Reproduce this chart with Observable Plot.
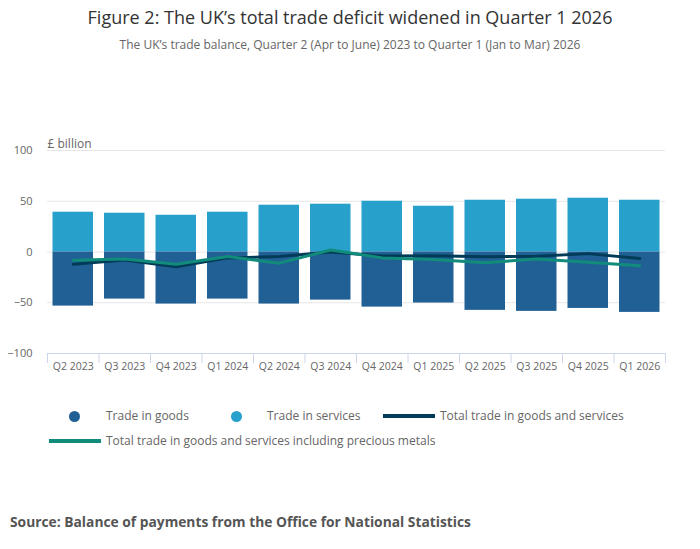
<!DOCTYPE html>
<html>
<head>
<meta charset="utf-8">
<script src="https://cdn.jsdelivr.net/npm/d3@7"></script>
<script src="https://cdn.jsdelivr.net/npm/@observablehq/plot@0.6"></script>
<style>
  html, body { margin: 0; padding: 0; background: #fff; font-family: "Open Sans", sans-serif; }
  #wrap { position: relative; width: 700px; height: 549px; }
  #title { position: absolute; top: 5px; left: 0; width: 700px; text-align: center; font-size: 18px; color: #333; }
  #subtitle { position: absolute; top: 36px; left: 0; width: 700px; text-align: center; font-size: 12px; color: #666; }
  #chart { position: absolute; top: 60px; left: 0; }
  .leg { position: absolute; font-size: 12px; color: #666; white-space: nowrap; line-height: 16px; }
  .dot { position: absolute; width: 11px; height: 11px; border-radius: 50%; }
  .ln { position: absolute; height: 4px; width: 52px; }
  #source { position: absolute; top: 512px; left: 10px; font-size: 13.8px; font-weight: bold; color: #555; }
</style>
</head>
<body>
<div id="wrap">
  <div id="title">Figure 2: The UK’s total trade deficit widened in Quarter 1 2026</div>
  <div id="subtitle">The UK’s trade balance, Quarter 2 (Apr to June) 2023 to Quarter 1 (Jan to Mar) 2026</div>
  <div id="chart"></div>
  <div class="dot" style="left:69px;top:411px;background:#206095"></div>
  <div class="leg" style="left:106px;top:408px">Trade in goods</div>
  <div class="dot" style="left:231px;top:411px;background:#27a0cc"></div>
  <div class="leg" style="left:267px;top:408px">Trade in services</div>
  <div class="ln" style="left:383px;top:414px;background:#003c57"></div>
  <div class="leg" style="left:440px;top:408px">Total trade in goods and services</div>
  <div class="ln" style="left:49px;top:439px;background:#118c7b"></div>
  <div class="leg" style="left:106px;top:433px">Total trade in goods and services including precious metals</div>
  <div id="source">Source: Balance of payments from the Office for National Statistics</div>
</div>
<script>
const quarters = ["Q2 2023","Q3 2023","Q4 2023","Q1 2024","Q2 2024","Q3 2024","Q4 2024","Q1 2025","Q2 2025","Q3 2025","Q4 2025","Q1 2026"];
const goods = [-53.3,-46.4,-51.3,-46.4,-51.3,-47.4,-54.3,-50.3,-57.5,-58.5,-55.6,-59.5];
const services = [39.2,38.2,36.2,39.2,46.1,47.1,50.0,45.1,51.0,52.0,53.0,51.0];
const total = [-12.1,-8.0,-14.5,-5.8,-4.5,0.0,-4.0,-3.7,-4.6,-4.3,-1.6,-6.5];
const totalPrecious = [-8.2,-6.8,-12.0,-4.5,-11.0,2.0,-5.8,-7.5,-10.5,-7.0,-10.0,-13.5];
const yTicks = [-100,-50,0,50,100];
const gridTicks = [-50,0,50,100];

const W = 700, ML = 47, MR = 35;
const half = (W - ML - MR) / quarters.length / 2;

const rows = quarters.map((q, i) => ({q, goods: goods[i], services: services[i], total: total[i], totalPrecious: totalPrecious[i]}));

const chart = Plot.plot({
  width: W,
  height: 323,
  marginLeft: ML,
  marginRight: MR,
  marginTop: 90,
  marginBottom: 30,
  style: {fontFamily: "Open Sans, sans-serif", fontSize: "11px", color: "#666", background: "transparent"},
  x: {domain: quarters, padding: 0, round: false, label: null},
  y: {domain: [-100, 100], ticks: yTicks, label: null},
  marks: [
    Plot.ruleY(gridTicks, {stroke: "#e6e6e6", strokeWidth: 1}),
    Plot.barY(rows, {x: "q", y1: 0, y2: "services", fill: "#27a0cc", insetLeft: 5.5, insetRight: 5.5}),
    Plot.barY(rows, {x: "q", y1: 0, y2: "goods", fill: "#206095", insetLeft: 5.5, insetRight: 5.5}),
    Plot.ruleY([-100], {stroke: "#ccd6eb", strokeWidth: 1}),
    Plot.ruleX(quarters, {x: d => d, y1: -100, y2: -100, dx: -half, insetBottom: -10, stroke: "#ccd6eb"}),
    Plot.ruleX(quarters.slice(-1), {x: d => d, y1: -100, y2: -100, dx: half, insetBottom: -10, stroke: "#ccd6eb"}),
    Plot.line(rows, {x: "q", y: "total", stroke: "#003c57", strokeWidth: 3}),
    Plot.line(rows, {x: "q", y: "totalPrecious", stroke: "#118c7b", strokeWidth: 3}),
    Plot.axisY({ticks: yTicks, tickSize: 0, tickPadding: 15, fill: "#666", fontSize: 11}),
    Plot.axisX({tickSize: 0, tickPadding: 9, fill: "#666", fontSize: 10.5}),
    Plot.text(["£ billion"], {frameAnchor: "top-left", dy: -11, textAnchor: "start", fill: "#666", fontSize: 12})
  ]
});
document.getElementById("chart").appendChild(chart);
</script>
</body>
</html>
